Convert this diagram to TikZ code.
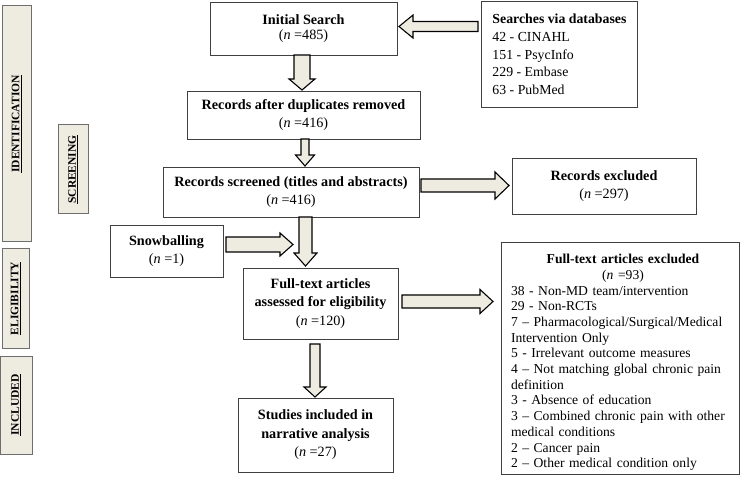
\documentclass[tikz,border=0pt]{standalone}
\usepackage{fontspec}
\setmainfont{Liberation Serif}
\usetikzlibrary{calc}
\definecolor{tan}{HTML}{EEECE1}
\definecolor{boxline}{HTML}{404040}
\definecolor{barline}{HTML}{6E6E6E}
\tikzset{
  box/.style={draw=boxline, line width=0.9pt, fill=white, align=center, inner sep=0pt,
    font=\fontsize{14.2}{18.5}\selectfont},
  sidebar/.style={draw=barline, line width=1pt, fill=tan, inner sep=0pt},
  sidelabel/.style={rotate=90, font=\fontsize{11.5}{13}\selectfont\bfseries},
  fat/.style={draw=black, line width=1.1pt, fill=tan, line join=miter},
}
% fat arrow: start, end, shaft half width, head half width, head length
\newcommand\fatarrow[5]{%
  \coordinate (fa-h) at ($(#2)!#5!(#1)$);
  \draw[fat] ($(#1)!#3!90:(#2)$) -- ($(fa-h)!#3!-90:(#1)$) -- ($(fa-h)!#4!-90:(#1)$)
    -- (#2) -- ($(fa-h)!#4!90:(#1)$) -- ($(fa-h)!#3!90:(#1)$) -- ($(#1)!#3!-90:(#2)$) -- cycle;
}
\newcommand\nn[1]{(\textit{n} =#1)}
\begin{document}
\begin{tikzpicture}[x=1pt,y=-1pt]
\useasboundingbox (0,0) rectangle (740,484);

% side bars
\node[sidebar, minimum width=29pt, minimum height=236pt] (idb) at (16.5,124) {};
\node[sidelabel] (idl) at (idb.center) {\underline{IDENTIFICATION}};
\node[sidebar, minimum width=30pt, minimum height=89pt] (scb) at (73,169.5) {};
\node[sidelabel] (scl) at (scb.center) {\underline{SCREENING}};
\node[sidebar, minimum width=27pt, minimum height=99pt] (elb) at (15.5,298.5) {};
\node[sidelabel] (ell) at (elb.center) {\underline{ELIGIBILITY}};
\node[sidebar, minimum width=32pt, minimum height=98pt] (inb) at (16,405) {};
\node[sidelabel] (inl) at (inb.center) {\underline{INCLUDED}};

% boxes
\node[box, minimum width=187pt, minimum height=53pt,
  font=\fontsize{14.2}{15}\selectfont] (init) at (303.5,28.5)
  {\textbf{Initial Search}\\\nn{485}};
\node[box, minimum width=233pt, minimum height=48pt] (dup) at (303.5,115)
  {\textbf{Records after duplicates removed}\\\nn{416}};
\node[box, minimum width=256pt, minimum height=50pt] (scr) at (291,192)
  {\textbf{Records screened (titles and abstracts)}\\\nn{416}};
\node[box, minimum width=184pt, minimum height=56pt] (excl) at (604,186)
  {\textbf{Records excluded}\\\nn{297}};
\node[box, minimum width=113pt, minimum height=52pt] (snow) at (166.5,251)
  {\textbf{Snowballing}\\\nn{1}};
\node[box, minimum width=155pt, minimum height=71pt] (full) at (320.5,303.5)
  {\textbf{Full-text articles}\\\textbf{assessed for eligibility}\\\nn{120}};
\node[box, minimum width=155pt, minimum height=74pt] (stud) at (315.5,435)
  {\textbf{Studies included in}\\\textbf{narrative analysis}\\\nn{27}};
\node[box, minimum width=156pt, minimum height=106pt, align=left,
  font=\fontsize{13.8}{17.7}\selectfont, anchor=north west, inner xsep=8.5pt, inner ysep=0pt] (db) at (481,1)
  {\textbf{Searches via databases}\\42 - CINAHL\\151 - PsycInfo\\229 - Embase\\63 - PubMed};
\node[box, minimum width=238pt, minimum height=232pt] (ex2) at (620,358) {};
\node[text width=224pt, align=left, inner sep=0pt,
  font=\fontsize{13.6}{15.7}\selectfont] (ex2t) at ($(ex2.center)+(3,4.5)$)
  {\centering\textbf{Full-text articles excluded}\\\nn{93}\par
   \raggedright
   38 - Non-MD team/intervention\\
   29 - Non-RCTs\\
   7 -- Pharmacological/Surgical/Medical\\
   Intervention Only\\
   5 - Irrelevant outcome measures\\
   4 -- Not matching global chronic pain\\
   definition\\
   3 - Absence of education\\
   3 -- Combined chronic pain with other\\
   medical conditions\\
   2 -- Cancer pain\\
   2 -- Other medical condition only};

% arrows
\coordinate (a1s) at (302,55);  \coordinate (a1e) at (302,90);
\fatarrow{a1s}{a1e}{8pt}{13pt}{11pt}
\coordinate (a2s) at (305,139); \coordinate (a2e) at (305,166);
\fatarrow{a2s}{a2e}{4pt}{9.5pt}{11pt}
\coordinate (a3s) at (421,185.5); \coordinate (a3e) at (509,185.5);
\fatarrow{a3s}{a3e}{6.5pt}{13.5pt}{14pt}
\coordinate (a4s) at (226,244.5); \coordinate (a4e) at (293,244.5);
\fatarrow{a4s}{a4e}{7.5pt}{11.5pt}{13pt}
\coordinate (a5s) at (305.5,217); \coordinate (a5e) at (305.5,266);
\fatarrow{a5s}{a5e}{6.5pt}{11.5pt}{13pt}
\coordinate (a6s) at (402,301.5); \coordinate (a6e) at (493,301.5);
\fatarrow{a6s}{a6e}{6.5pt}{12pt}{13pt}
\coordinate (a7s) at (315,344); \coordinate (a7e) at (315,397);
\fatarrow{a7s}{a7e}{5pt}{11pt}{10pt}
\coordinate (a8s) at (478,26.5); \coordinate (a8e) at (399,26.5);
\fatarrow{a8s}{a8e}{5pt}{11.5pt}{14pt}
\end{tikzpicture}
\end{document}
